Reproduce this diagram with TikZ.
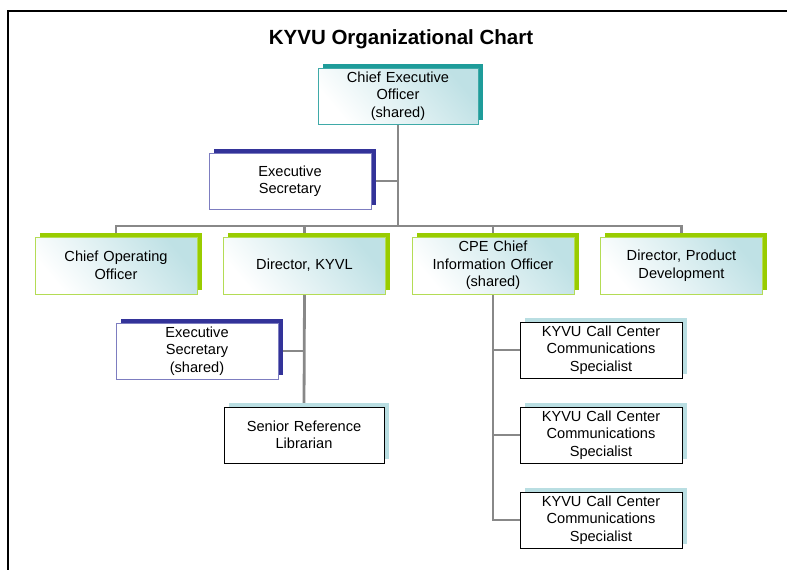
\documentclass[tikz,border=0pt]{standalone}
\usepackage{fontspec}
\setmainfont{Liberation Sans}
\usetikzlibrary{shadows,backgrounds}
\definecolor{tealshadow}{HTML}{1E9C9A}
\definecolor{tealborder}{HTML}{3FAAA8}
\definecolor{greenshadow}{HTML}{99CC00}
\definecolor{greenborder}{HTML}{B4DC55}
\definecolor{navyshadow}{HTML}{333399}
\definecolor{navyborder}{HTML}{7D7DC0}
\definecolor{lightshadow}{HTML}{B9DEE2}
\definecolor{gradc}{HTML}{BFE1E5}
\definecolor{connc}{HTML}{888888}
\begin{document}
\begin{tikzpicture}[x=1pt,y=-1pt,
  box/.style={rectangle, minimum width=162pt, minimum height=56pt, inner sep=0pt,
    align=center, text width=158pt, font=\fontsize{14.6}{17.5}\selectfont},
  shd/.style={general shadow={fill=#1, draw=none, shadow xshift=4.5pt, shadow yshift=4pt}},
  grad/.style={bottom color=white, top color=gradc, shading angle=-50},
  tealbox/.style={box, shd=tealshadow, grad, draw=tealborder, line width=1pt},
  greenbox/.style={box, shd=greenshadow, grad, draw=greenborder, line width=1pt},
  navybox/.style={box, shd=navyshadow, fill=white, draw=navyborder, line width=1pt},
  plainbox/.style={box, shd=lightshadow, fill=white, draw=black, line width=0.9pt},
  conn/.style={draw=connc, line width=2.8pt},
  frame/.style={draw=black, line width=2pt}]
\useasboundingbox (0,0) rectangle (787,570);
\draw[frame] (787,11) -- (7.5,11) -- (7.5,570);

\node[font=\fontsize{20.5}{24}\bfseries\selectfont] (title) at (401,39) {KYVU Organizational Chart};

\node[tealbox, minimum width=160pt] (ceo) at (398,96) {Chief Executive\\Officer\\(shared)};
\node[navybox] (es1) at (290,181) {Executive\\Secretary};

\node[greenbox, minimum height=57pt] (coo) at (116,265.5) {Chief Operating\\Officer};
\node[greenbox, minimum height=57pt] (kyvl) at (304.5,265.5) {Director, KYVL};
\node[greenbox, minimum height=57pt] (cio) at (493,265.5) {CPE Chief\\Information Officer\\(shared)};
\node[greenbox, minimum height=57pt] (dpd) at (681.5,265.5) {Director, Product\\Development};

\node[navybox] (es2) at (197,351) {Executive\\Secretary\\(shared)};
\node[plainbox, minimum width=160pt] (srl) at (304,435) {Senior Reference\\Librarian};

\node[plainbox] (cc1) at (601,350) {KYVU Call Center\\Communications\\Specialist};
\node[plainbox] (cc2) at (601,435) {KYVU Call Center\\Communications\\Specialist};
\node[plainbox] (cc3) at (601,520) {KYVU Call Center\\Communications\\Specialist};

\coordinate (bus) at (0,226);

\begin{scope}[on background layer]
\draw[conn] (ceo.south) -- (ceo.south |- bus);
\draw[conn] (es1.east) -- (es1.east -| ceo.south);
\draw[conn] (coo.north) -- (coo.north |- bus) -- (dpd.north |- bus) -- (dpd.north);
\draw[conn] (kyvl.north) -- (kyvl.north |- bus);
\draw[conn] (cio.north) -- (cio.north |- bus);
\draw[conn] (kyvl.south) -- (srl.north);
\draw[conn] (es2.east) -- (es2.east -| kyvl.south);
\draw[conn] (cio.south) |- (cc3.west);
\draw[conn] (cc1.west) -- (cc1.west -| cio.south);
\draw[conn] (cc2.west) -- (cc2.west -| cio.south);
\end{scope}
\end{tikzpicture}
\end{document}
